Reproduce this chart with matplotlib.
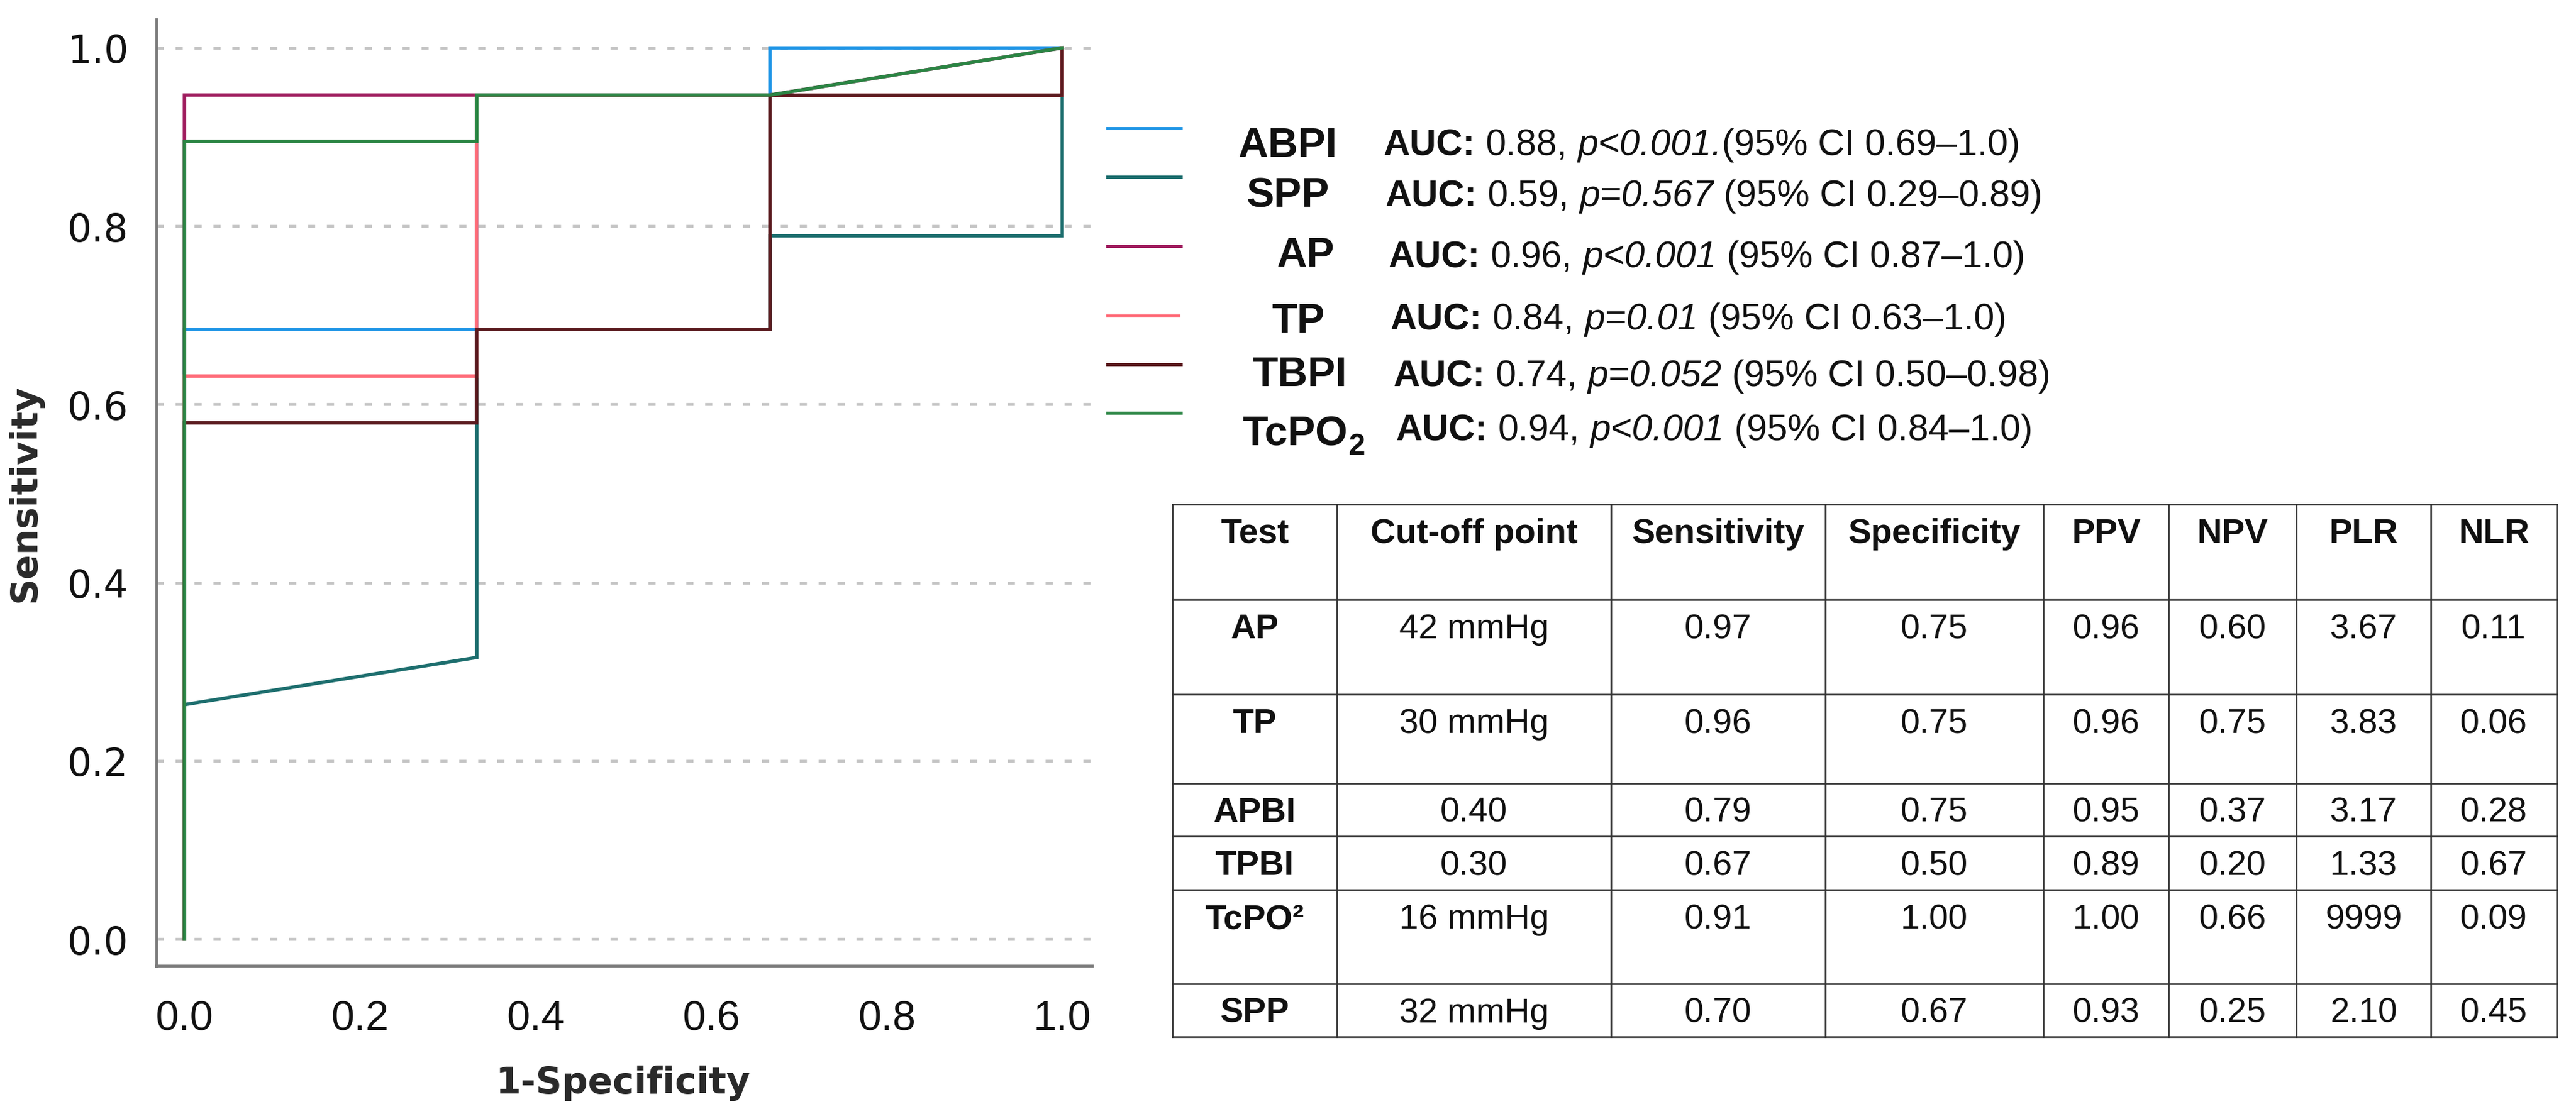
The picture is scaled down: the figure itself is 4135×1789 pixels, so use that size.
import matplotlib
matplotlib.use("Agg")
import matplotlib.pyplot as plt

# ---------------- data ----------------
tests = ["ABPI", "SPP", "AP", "TP", "TBPI", "TcPO2"]
colors = ["#1f95e6", "#1d6e6e", "#9e1a5c", "#ff6b78", "#5a1a1e", "#2b8544"]

fpr_abpi = [0.0, 0.0, 0.333, 0.333, 0.667, 0.667, 1.0]
tpr_abpi = [0.0, 0.684, 0.684, 0.947, 0.947, 1.0, 1.0]
fpr_spp = [0.0, 0.0, 0.333, 0.333, 0.667, 0.667, 1.0, 1.0]
tpr_spp = [0.0, 0.263, 0.316, 0.684, 0.684, 0.789, 0.789, 1.0]
fpr_ap = [0.0, 0.0, 0.667, 1.0]
tpr_ap = [0.0, 0.947, 0.947, 1.0]
fpr_tp = [0.0, 0.0, 0.333, 0.333, 1.0, 1.0]
tpr_tp = [0.0, 0.632, 0.632, 0.947, 0.947, 1.0]
fpr_tbpi = [0.0, 0.0, 0.333, 0.333, 0.667, 0.667, 1.0, 1.0]
tpr_tbpi = [0.0, 0.579, 0.579, 0.684, 0.684, 0.947, 0.947, 1.0]
fpr_tcpo2 = [0.0, 0.0, 0.333, 0.333, 0.667, 1.0]
tpr_tcpo2 = [0.0, 0.895, 0.895, 0.947, 0.947, 1.0]

auc_values = [0.88, 0.59, 0.96, 0.84, 0.74, 0.94]
p_texts = ["p<0.001.", "p=0.567", "p<0.001", "p=0.01", "p=0.052", "p<0.001"]
p_seps = ["", " ", " ", " ", " ", " "]
ci_texts = ["0.69–1.0", "0.29–0.89", "0.87–1.0", "0.63–1.0", "0.50–0.98", "0.84–1.0"]

ticks = [0.0, 0.2, 0.4, 0.6, 0.8, 1.0]

table_header = ["Test", "Cut-off point", "Sensitivity", "Specificity", "PPV", "NPV", "PLR", "NLR"]
table_tests = ["AP", "TP", "APBI", "TPBI", "TcPO²", "SPP"]
cutoffs = ["42 mmHg", "30 mmHg", "0.40", "0.30", "16 mmHg", "32 mmHg"]
sensitivity = [0.97, 0.96, 0.79, 0.67, 0.91, 0.70]
specificity = [0.75, 0.75, 0.75, 0.50, 1.00, 0.67]
ppv = [0.96, 0.96, 0.95, 0.89, 1.00, 0.93]
npv = [0.60, 0.75, 0.37, 0.20, 0.66, 0.25]
plr = [3.67, 3.83, 3.17, 1.33, 9999, 2.10]
nlr = [0.11, 0.06, 0.28, 0.67, 0.09, 0.45]

curves = [(fpr_abpi, tpr_abpi), (fpr_spp, tpr_spp), (fpr_ap, tpr_ap),
          (fpr_tp, tpr_tp), (fpr_tbpi, tpr_tbpi), (fpr_tcpo2, tpr_tcpo2)]

# ---------------- layout ----------------
W, H = 4135, 1790
DPI = 100
PT = 72.0 / DPI  # px -> pt

fig = plt.figure(figsize=(W / DPI, H / DPI), dpi=DPI, facecolor="white")

ax_l, ax_r, ax_t, ax_b = 251, 1753, 32, 1552
ax = fig.add_axes([ax_l / W, 1 - ax_b / H, (ax_r - ax_l) / W, (ax_b - ax_t) / H])

for (fx, ty), c in zip(curves, colors):
    ax.plot(fx, ty, color=c, lw=5.5 * PT, solid_joinstyle="miter", zorder=3)

ax.set_xlim(-0.032, 1.034)
ax.set_ylim(-0.030, 1.032)
ax.set_xticks(ticks)
ax.set_yticks(ticks)
ax.set_xticklabels([f"{t:.1f}" for t in ticks])
ax.set_yticklabels([f"{t:.1f}" for t in ticks])
ax.tick_params(axis="x", length=0, pad=39, labelsize=48, labelcolor="#111111",
               labelfontfamily="Liberation Sans")
ax.tick_params(axis="y", length=0, pad=32, labelsize=44.5, labelcolor="#111111",
               labelfontfamily="DejaVu Sans")
ax.yaxis.grid(True, color="#c4c4c4", linewidth=4.6 * PT, linestyle=(0, (2.5, 4.1)))
ax.xaxis.grid(False)
ax.set_axisbelow(True)
for s in ["top", "right"]:
    ax.spines[s].set_visible(False)
for s in ["left", "bottom"]:
    ax.spines[s].set_color("#7a7a7a")
    ax.spines[s].set_linewidth(4.5 * PT)

fig.text(40 / W, 1 - 792 / H, "Sensitivity", rotation=90, ha="center", va="center",
         fontsize=42, fontweight="bold", family="DejaVu Sans", color="#2a2a2a")
fig.text(1000 / W, 1 - 1740 / H, "1-Specificity", ha="center", va="center",
         fontsize=42, fontweight="bold", family="DejaVu Sans", color="#2a2a2a")

# overlay axes in pixel coordinates for legend and table
lay = fig.add_axes([0, 0, 1, 1])
lay.set_xlim(0, W)
lay.set_ylim(H, 0)
lay.axis("off")

fig.canvas.draw()
R = fig.canvas.get_renderer()
inv = lay.transData.inverted()

FONT = "Liberation Sans"


def width_of(s, **kw):
    t = lay.text(0, 100, s, **kw)
    bb = t.get_window_extent(renderer=R)
    t.remove()
    return bb.width


def put(x, y, s, **kw):
    t = lay.text(x, y, s, ha="left", va="baseline", **kw)
    bb = t.get_window_extent(renderer=R)
    return inv.transform((bb.x1, bb.y0))[0]


# ---- legend ----
handle_y = [207, 285, 396, 508, 586, 664]
handle_x0 = 1775
handle_x1 = [1898, 1898, 1898, 1894, 1898, 1898]
name_cx = [2067, 2067, 2096, 2084, 2086, 2092]
name_base = [252, 332, 428, 534, 620, 715]
auc_x = [2221, 2224, 2229, 2232, 2237, 2241]
auc_base = [249, 331, 429, 529, 620, 707]

NAME_FS = 48
AUC_FS = 42.5
bold = dict(family=FONT, fontsize=AUC_FS, fontweight="bold", color="#111111")
reg = dict(family=FONT, fontsize=AUC_FS, color="#111111")
ital = dict(family=FONT, fontsize=AUC_FS, fontstyle="italic", color="#111111")
sp = width_of("a a", **reg) - width_of("aa", **reg)

for i, name in enumerate(tests):
    lay.plot([handle_x0, handle_x1[i]], [handle_y[i], handle_y[i]], color=colors[i],
             lw=5 * PT, solid_capstyle="butt")
    nkw = dict(family=FONT, fontsize=NAME_FS, fontweight="bold", color="#111111")
    if name == "TcPO2":
        skw = dict(family=FONT, fontsize=NAME_FS * 0.72, fontweight="bold", color="#111111")
        wtot = width_of("TcPO", **nkw) + width_of("2", **skw)
        x = name_cx[i] - wtot / 2
        x = put(x, name_base[i], "TcPO", **nkw)
        put(x + 1, name_base[i] + 15, "2", **skw)
    else:
        lay.text(name_cx[i], name_base[i], name, ha="center", va="baseline", **nkw)

    x = auc_x[i]
    x = put(x, auc_base[i], "AUC:", **bold) + sp
    x = put(x, auc_base[i], f"{auc_values[i]:.2f},", **reg) + sp
    x = put(x, auc_base[i], p_texts[i], **ital)
    if p_seps[i]:
        x += sp
    put(x, auc_base[i], f"(95% CI {ci_texts[i]})", **reg)

# ---- table ----
col_edges = [1882, 2146, 2586, 2930, 3280, 3481, 3686, 3902, 4104]
row_edges = [811, 964, 1116, 1259, 1344, 1430, 1581, 1666]
TAB_FS = 40
line_kw = dict(color="#333333", lw=2.6 * PT, capstyle="projecting")
lay.hlines(row_edges, col_edges[0], col_edges[-1], **line_kw)
lay.vlines(col_edges, row_edges[0], row_edges[-1], **line_kw)


def fmt(v):
    return f"{v:.0f}" if v >= 100 else f"{v:.2f}"


rows = [table_header]
for k in range(len(table_tests)):
    rows.append([table_tests[k], cutoffs[k], fmt(sensitivity[k]), fmt(specificity[k]),
                 fmt(ppv[k]), fmt(npv[k]), fmt(plr[k]), fmt(nlr[k])])

for r, row in enumerate(rows):
    yb = row_edges[r] + 61
    for c, cell in enumerate(row):
        xc = (col_edges[c] + col_edges[c + 1]) / 2
        weight = "bold" if (r == 0 or c == 0) else "normal"
        lay.text(xc, yb, cell, ha="center", va="baseline", family=FONT,
                 fontsize=TAB_FS, fontweight=weight, color="#111111")

fig.savefig("out.png", dpi=DPI, facecolor="white")
